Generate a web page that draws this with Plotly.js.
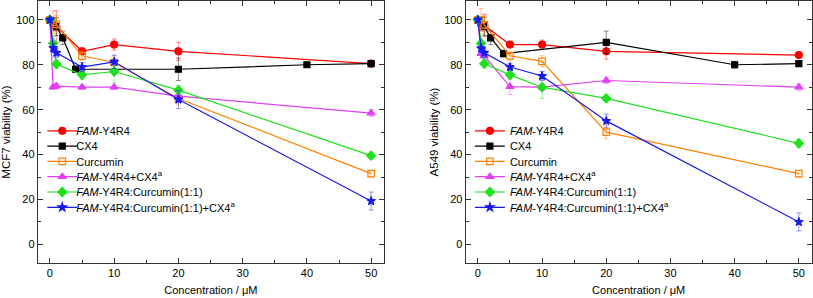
<!DOCTYPE html>
<html><head><meta charset="utf-8">
<script src="https://cdn.plot.ly/plotly-3.0.1.min.js"></script>
<style>html,body{margin:0;padding:0;background:#fff}#chart{width:813px;height:298px}</style>
</head><body><div id="chart"></div>
<script>
// Concentrations (µM)
const xMain = [0, 0.5, 1, 5, 10, 20, 50];
const xCX4 = [0, 1, 2, 4, 20, 40, 50];

// Series names
const names = [
  "<i>FAM</i>-Y4R4",
  "CX4",
  "Curcumin",
  "<i>FAM</i>-Y4R4+CX4<sup>a</sup>",
  "<i>FAM</i>-Y4R4:Curcumin(1:1)",
  "<i>FAM</i>-Y4R4:Curcumin(1:1)+CX4<sup>a</sup>"
];

// MCF7 viability (%)
const mcfFam = [100, 98, 97, 86, 89, 86, 80.5];
const mcfFamErr = [1, 3, 7, 1.5, 2.5, 4, 1];
const mcfCX4 = [100, 97, 92, 78, 78, 80, 80.5];
const mcfCX4Err = [1, 4, 3, 1.5, 5, 1, 1];
const mcfCur = [100, 99, 98, 84, 81, 65, 31.5];
const mcfCurErr = [1, 5, 4, 2, 3, 3, 1.5];
const mcfFamCX4 = [100, 70, 70.5, 70, 70, 66, 58.5];
const mcfFamCX4Err = [1, 1, 1, 1, 1, 2, 1.5];
const mcfFamCur = [100, 89.5, 80.3, 75.5, 77, 68.7, 39.5];
const mcfFamCurErr = [1, 3, 2, 2, 5, 2, 1.5];
const mcfFamCurCX4 = [100, 87.5, 85.3, 79, 81.3, 64.5, 19.3];
const mcfFamCurCX4Err = [1, 2, 2, 2, 3, 4, 4];

// A549 viability (%)
const a549Fam = [100, 98, 97.5, 89, 89, 86, 84.3];
const a549FamErr = [1, 3, 5, 1, 2, 3.5, 1];
const a549CX4 = [100, 97, 92, 85, 90, 80, 80.5];
const a549CX4Err = [1, 4, 3, 1.5, 5, 1.5, 1];
const a549Cur = [100, 100, 97.8, 84, 81.5, 50, 31.5];
const a549CurErr = [1, 5, 4, 2, 2.5, 3, 1.5];
const a549FamCX4 = [100, 85, 84, 70.3, 70, 73, 70];
const a549FamCX4Err = [1, 2, 2, 3.5, 1.5, 1.5, 1.5];
const a549FamCur = [100, 89.5, 80.5, 75.5, 70, 65, 45];
const a549FamCurErr = [1, 2, 2, 2, 5, 1.5, 2];
const a549FamCurCX4 = [100, 87.3, 85.3, 79, 75, 55, 10];
const a549FamCurCX4Err = [1, 2, 2, 1.5, 2, 3, 4];

const colors = ["#ff0000", "#000000", "#ff8000", "#e040f0", "#1ee01e", "#1a1aee"];
const errColors = ["rgba(255,0,0,0.45)", "rgba(0,0,0,0.45)", "rgba(255,128,0,0.45)", "rgba(224,64,240,0.45)", "rgba(30,224,30,0.45)", "rgba(26,26,238,0.45)"];
const symbols = ["circle", "square", "square-open", "triangle-up", "diamond", "star"];
const sizes = [7, 6, 6.5, 7, 7, 6.5];

function mk(i, x, y, e, xa, ya, leg) {
  return {
    type: "scatter", mode: "lines+markers", x: x, y: y, name: names[i],
    xaxis: xa, yaxis: ya, legend: leg,
    line: {color: colors[i], width: 1.2},
    marker: {color: colors[i], symbol: symbols[i], size: sizes[i], line: {color: colors[i], width: 1.2}},
    error_y: {type: "data", array: e, visible: true, color: errColors[i], thickness: 1, width: 2.5}
  };
}

const data = [
  mk(0, xMain, mcfFam, mcfFamErr, "x", "y", "legend"),
  mk(1, xCX4, mcfCX4, mcfCX4Err, "x", "y", "legend"),
  mk(2, xMain, mcfCur, mcfCurErr, "x", "y", "legend"),
  mk(3, xMain, mcfFamCX4, mcfFamCX4Err, "x", "y", "legend"),
  mk(4, xMain, mcfFamCur, mcfFamCurErr, "x", "y", "legend"),
  mk(5, xMain, mcfFamCurCX4, mcfFamCurCX4Err, "x", "y", "legend"),
  mk(0, xMain, a549Fam, a549FamErr, "x2", "y2", "legend2"),
  mk(1, xCX4, a549CX4, a549CX4Err, "x2", "y2", "legend2"),
  mk(2, xMain, a549Cur, a549CurErr, "x2", "y2", "legend2"),
  mk(3, xMain, a549FamCX4, a549FamCX4Err, "x2", "y2", "legend2"),
  mk(4, xMain, a549FamCur, a549FamCurErr, "x2", "y2", "legend2"),
  mk(5, xMain, a549FamCurCX4, a549FamCurCX4Err, "x2", "y2", "legend2")
];

const fnt = {family: "Liberation Sans, Arial, sans-serif", size: 11, color: "#000"};
const titleFnt = {family: "Liberation Sans, Arial, sans-serif", size: 11.5, color: "#000"};
function xax(dom, anchor) {
  return {
    domain: dom, anchor: anchor, range: [-1.9, 52], dtick: 10, tick0: 0,
    ticks: "inside", ticklen: 5, tickwidth: 1, tickcolor: "#333",
    showline: true, linecolor: "#333", linewidth: 1, mirror: "ticks",
    showgrid: false, zeroline: false, tickfont: fnt,
    minor: {dtick: 5, ticks: "inside", ticklen: 3, tickcolor: "#333", showgrid: false},
    title: {text: "Concentration / \u03bcM", font: fnt, standoff: 8}
  };
}
function yax(anchor, label) {
  return {
    anchor: anchor, domain: [0, 1], range: [-8.3, 108.4], dtick: 20, tick0: 0,
    ticks: "inside", ticklen: 5, tickwidth: 1, tickcolor: "#333",
    showline: true, linecolor: "#333", linewidth: 1, mirror: "ticks",
    showgrid: false, zeroline: false, tickfont: fnt,
    minor: {dtick: 10, ticks: "inside", ticklen: 3, tickcolor: "#333", showgrid: false},
    title: {text: label, font: titleFnt, standoff: 3}
  };
}
const legBase = {
  font: fnt, bgcolor: "rgba(0,0,0,0)", borderwidth: 0, tracegroupgap: 0,
  itemwidth: 30, xanchor: "left", yanchor: "top", itemclick: false
};

const layout = {
  width: 813, height: 298,
  margin: {l: 0, r: 0, t: 1, b: 35},
  paper_bgcolor: "#fff", plot_bgcolor: "#fff",
  font: fnt,
  showlegend: true,
  xaxis: xax([0.0464, 0.4723], "y"),
  yaxis: yax("x", "MCF7 viability (%)"),
  xaxis2: xax([0.5728, 0.9984], "y2"),
  yaxis2: yax("x2", "A549 viability (%)"),
  legend: Object.assign({}, legBase, {x: 0.052, y: 0.56}),
  legend2: Object.assign({}, legBase, {x: 0.578, y: 0.56})
};

Plotly.newPlot("chart", data, layout, {displayModeBar: false, staticPlot: true}).then(function (gd) {
  // tighten legend rows to match the reference spacing
  ["legend", "legend2"].forEach(function (cls) {
    const leg = gd.querySelector("g." + cls);
    if (!leg) return;
    const items = leg.querySelectorAll("g.traces");
    let y0 = null;
    items.forEach(function (g, i) {
      const m = /translate\(\s*([-\d.]+)[ ,]+([-\d.]+)\s*\)/.exec(g.getAttribute("transform") || "");
      const tx = m ? parseFloat(m[1]) : 0;
      const ty = m ? parseFloat(m[2]) : 0;
      if (y0 === null) y0 = ty;
      g.setAttribute("transform", "translate(" + tx + "," + (y0 + i * 15.3) + ")");
      const t = g.querySelector("text.legendtext");
      if (t) {
        const x = parseFloat(t.getAttribute("x") || "40");
        t.setAttribute("x", x - 6);
        t.querySelectorAll("tspan[x]").forEach(function (s) { s.setAttribute("x", parseFloat(s.getAttribute("x")) - 6); });
      }
    });
  });
});
</script>
</body></html>
